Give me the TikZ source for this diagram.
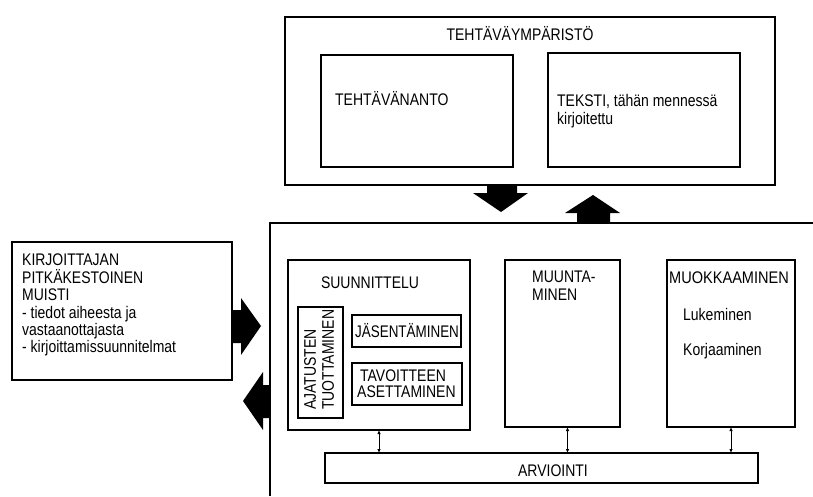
\documentclass[tikz,border=0pt]{standalone}
\usepackage{fontspec}
\setmainfont{Liberation Sans}
\usetikzlibrary{arrows.meta,calc}

\begin{document}
\begin{tikzpicture}[x=1pt,y=-1pt,
    box/.style={draw,line width=1.2pt,inner sep=0pt,outer sep=0pt,anchor=north west},
    txt/.style={inner sep=0pt,font=\fontsize{16.8}{17.4}\selectfont,align=left,xscale=0.833},
    dbl/.style={line width=0.9pt,{Latex[length=4pt,width=3.5pt]}-{Latex[length=4pt,width=3.5pt]}}]
        \useasboundingbox (0,0) rectangle (813,496);

        % Tehtäväympäristö
        \node[box,minimum width=490pt,minimum height=168pt] (env) at (285,17) {};
        \node[box,minimum width=192pt,minimum height=112pt] (task) at (321,55) {};
        \node[box,minimum width=192pt,minimum height=114pt] (text) at (548,53) {};
        \node[txt,anchor=base] (envlabel) at (520,40) {TEHTÄVÄYMPÄRISTÖ};
        \node[txt,anchor=base west] (tasklabel) at (335,105) {TEHTÄVÄNANTO};
        \node[txt,anchor=north west,font=\fontsize{16.8}{18}\selectfont] (textlabel) at (557,94) {TEKSTI, tähän mennessä\\kirjoitettu};

        % Pitkäkestoinen muisti
        \node[box,minimum width=220pt,minimum height=138pt] (memory) at (12,242) {};
        \node[txt,anchor=north west] (memlabel) at (22,254)
            {KIRJOITTAJAN\\PITKÄKESTOINEN\\MUISTI\\- tiedot aiheesta ja\\vastaanottajasta\\- kirjoittamissuunnitelmat};

        % Kirjoittamisprosessi (jatkuu kuvan reunan yli)
        \coordinate (mainNE) at (813,223);
        \coordinate (mainNW) at (270,223);
        \coordinate (mainSW) at (270,496);
        \draw[line width=1.2pt] (mainNE) -- (mainNW) -- (mainSW);

        % Suunnittelu
        \node[box,minimum width=182pt,minimum height=170pt] (plan) at (288,260) {};
        \node[txt,anchor=base] (planlabel) at (370,288) {SUUNNITTELU};
        \node[box,minimum width=45pt,minimum height=111pt] (ideas) at (298,307) {};
        \node[inner sep=0pt,font=\fontsize{16.8}{18}\selectfont,align=left,
              anchor=north west,rotate=90,xscale=0.833] (ideaslabel) at (304,410) {AJATUSTEN\\TUOTTAMINEN};
        \node[box,minimum width=109pt,minimum height=32pt] (organize) at (352,315) {};
        \node[txt,anchor=base west,xscale=0.96] (orglabel) at (355,337) {JÄSENTÄMINEN};
        \node[box,minimum width=110pt,minimum height=42pt] (goals) at (352,363) {};
        \node[txt,anchor=north west,font=\fontsize{16.8}{15.5}\selectfont] (goalslabel) at (357,370) {\hspace*{3.6pt}TAVOITTEEN\\ASETTAMINEN};

        % Muuntaminen
        \node[box,minimum width=115pt,minimum height=167pt] (transl) at (505,260) {};
        \node[txt,anchor=north west] (transllabel) at (532,271) {MUUNTA-\\MINEN};

        % Muokkaaminen
        \node[box,minimum width=128pt,minimum height=167pt] (review) at (667,260) {};
        \node[txt,anchor=base west,xscale=1.04] (reviewlabel) at (669,283) {MUOKKAAMINEN};
        \node[txt,anchor=base west] (readlabel) at (683,320) {Lukeminen};
        \node[txt,anchor=base west] (editlabel) at (683,355) {Korjaaminen};

        % Arviointi
        \node[box,minimum width=433pt,minimum height=30pt] (eval) at (325,453) {};
        \node[txt,anchor=base] (evallabel) at (553,476) {ARVIOINTI};

        \draw[dbl] (plan.south) -- (plan.south |- eval.north);
        \draw[dbl] ([xshift=5pt]transl.south) -- ([xshift=5pt]transl.south |- eval.north);
        \draw[dbl] (review.south) -- (review.south |- eval.north);

        % Paksut nuolet
        \fill (487,185) -- (517,185) -- (517,193) -- (528,193) -- (501,212) -- (473,193) -- (487,193) -- cycle;
        \fill (577,223) -- (610,223) -- (610,213) -- (620,213) -- (593,195) -- (565,213) -- (577,213) -- cycle;
        \fill (233,310) -- (241,310) -- (241,298) -- (261,326) -- (241,355) -- (241,343) -- (233,343) -- cycle;
        \fill (270,385) -- (263,385) -- (263,372) -- (243,401) -- (263,430) -- (263,418) -- (270,418) -- cycle;

    \end{tikzpicture}
\end{document}
